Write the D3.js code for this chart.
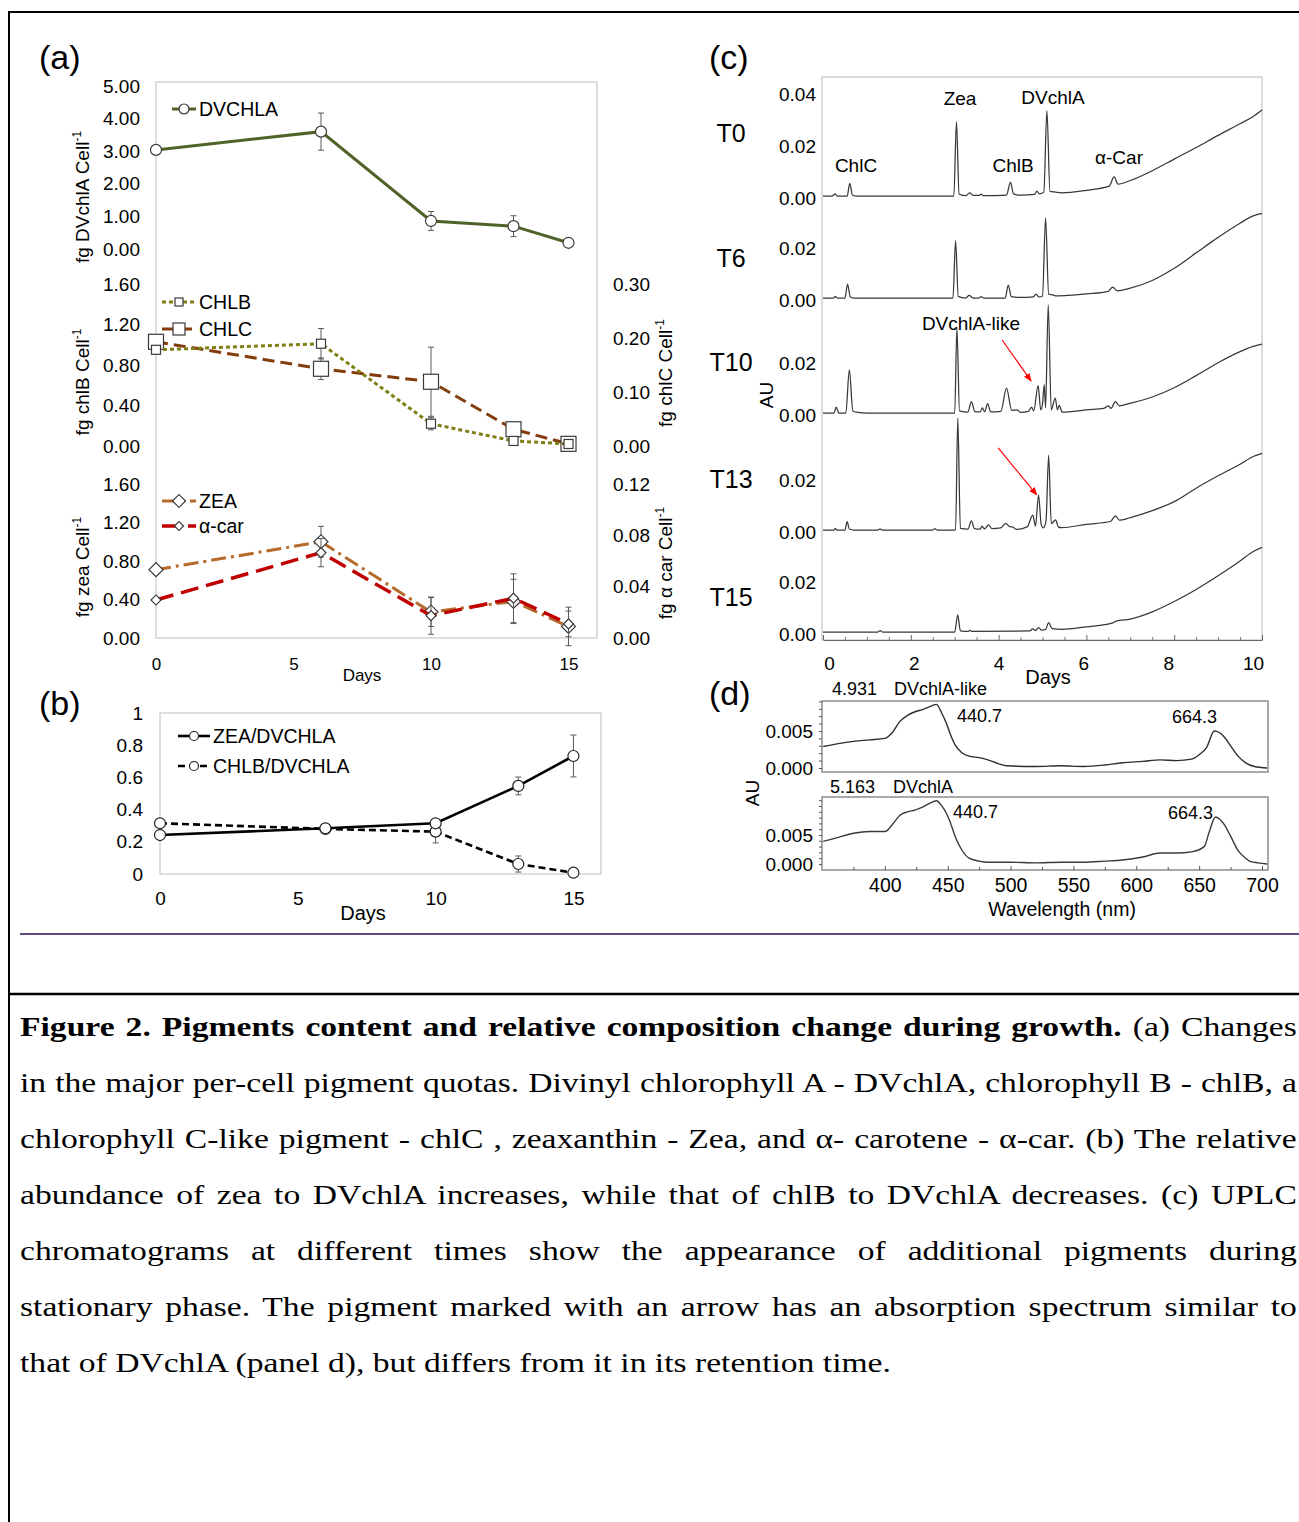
<!DOCTYPE html>
<html>
<head>
<meta charset="utf-8">
<title>Figure 2</title>
<script src="https://cdn.jsdelivr.net/npm/d3@7/dist/d3.min.js"></script>
<style>
	html, body { margin: 0; padding: 0; background: #fff; }
	body { width: 1299px; height: 1522px; overflow: hidden; position: relative; }
	#chart { position: absolute; left: 0; top: 0; }
	/* the serif caption is stretched sideways to reach the width of the original face */
	#caption { position: absolute; left: 20px; top: 999px; width: 1064px;
		transform: scaleX(1.2); transform-origin: 0 0;
		font-family: "Liberation Serif", "Times New Roman", serif; font-size: 28px; color: #000; }
	#caption div { height: 56px; line-height: 56px; text-align: justify; text-align-last: justify; }
	#caption div.last { text-align-last: left; }
</style>
</head>
<body>
<div id="chart"></div>
<div id="caption"></div>
<script>

// panels (a) and (b): sampling days
const days = [0, 6, 10, 13, 15];
const dayTicks = [0, 5, 10, 15];

// per-cell quotas (fg / cell), +- error
const dvchla = [3.04, 3.6, 0.86, 0.7, 0.19];
const dvchlaErr = [0, 0.57, 0.29, 0.32, 0];
const chlb = [0.95, 1.01, 0.22, 0.05, 0.02];
const chlbErr = [0, 0.15, 0.06, 0.01, 0];
const chlc = [0.193, 0.143, 0.119, 0.031, 0.004];
const chlcErr = [0, 0.02, 0.064, 0, 0];
const zea = [0.71, 1.0, 0.27, 0.38, 0.12];
const zeaErr = [0, 0.16, 0.15, 0.23, 0.2];
const acar = [0.0296, 0.0665, 0.0174, 0.031, 0.011];
const acarErr = [0, 0.011, 0.0145, 0.019, 0.01];

// relative composition
const zeaRatio = [0.242, 0.284, 0.315, 0.547, 0.733];
const zeaRatioErr = [0, 0, 0, 0.055, 0.13];
const chlbRatio = [0.315, 0.28, 0.263, 0.062, 0.008];
const chlbRatioErr = [0, 0, 0.07, 0.05, 0];

const dvTicks = [0, 1, 2, 3, 4, 5];
const quotaTicks = [0, 0.4, 0.8, 1.2, 1.6];
const chlcTicks = [0, 0.1, 0.2, 0.3];
const acarTicks = [0, 0.04, 0.08, 0.12];
const ratioTicks = [0, 0.2, 0.4, 0.6, 0.8, 1];

// panel (c): UPLC chromatograms, [retention time, AU above own baseline]
const chromT0 = [[0,0],[0.2,0],[0.28,0.0008],[0.32,0],[0.55,0],[0.61,0.0049],[0.67,0.0004],[0.75,0],[2.98,0],[3.04,0.0288],[3.1,0.0008],[3.25,0.0001],[3.34,0.0012],[3.42,0.0002],[3.56,0.0002],[3.6,0.0007],[3.66,0.0001],[4.18,0.0003],[4.27,0.0054],[4.34,0.0008],[4.5,0.0003],[4.82,0.0006],[4.87,0.0019],[4.93,0.0008],[5.03,0.0015],[5.1,0.0332],[5.17,0.0018],[5.3,0.0015],[5.42,0.0012],[6.0,0.0022],[6.52,0.0038],[6.63,0.0074],[6.72,0.0046],[7.0,0.006],[7.5,0.0098],[8.0,0.0143],[8.5,0.0188],[9.0,0.0235],[9.5,0.028],[9.8,0.0308],[10,0.0333]];
const chromT6 = [[0,0],[0.24,0],[0.28,0.0006],[0.32,0],[0.5,0],[0.56,0.0054],[0.62,0.0005],[0.7,0],[2.96,0],[3.02,0.0222],[3.08,0.0006],[3.25,0],[3.33,0.001],[3.42,0],[3.55,0],[3.6,0.0005],[3.66,0],[4.15,0],[4.22,0.005],[4.29,0.0005],[4.5,0.0002],[4.79,0.0004],[4.85,0.0015],[4.92,0.0004],[5.0,0.0008],[5.07,0.031],[5.14,0.0015],[5.23,0.0012],[5.32,0.0008],[5.6,0.001],[6.0,0.0016],[6.5,0.0026],[6.6,0.0042],[6.7,0.0028],[7.0,0.0038],[7.5,0.0068],[8.0,0.0115],[8.5,0.0175],[9.0,0.0235],[9.5,0.029],[9.8,0.0318],[10,0.0328]];
const chromT10 = [[0,0],[0.25,0],[0.3,0.0023],[0.36,0],[0.52,0],[0.6,0.0167],[0.68,0.0008],[0.8,0.0002],[1.0,0],[3.0,0],[3.05,0.033],[3.11,0.0008],[3.3,0.0003],[3.38,0.0044],[3.46,0.0005],[3.58,0.0004],[3.63,0.002],[3.68,0.0004],[3.75,0.0036],[3.82,0.0004],[4.05,0.0006],[4.18,0.0096],[4.3,0.001],[4.42,0.0012],[4.5,0.0002],[4.68,0.0006],[4.75,0.0023],[4.8,0.0008],[4.9,0.0106],[4.96,0.0012],[5.0,0.0035],[5.04,0.011],[5.07,0.002],[5.13,0.0419],[5.2,0.0012],[5.29,0.0058],[5.34,0.0012],[5.38,0.003],[5.45,0.0003],[5.7,0.0006],[6.0,0.0012],[6.4,0.0018],[6.5,0.0028],[6.56,0.0018],[6.66,0.0044],[6.75,0.0028],[7.0,0.0038],[7.5,0.0062],[8.0,0.0098],[8.5,0.0145],[9.0,0.0195],[9.5,0.0238],[9.8,0.0258],[10,0.0267]];
const chromT13 = [[0,0],[0.25,0],[0.28,0.0006],[0.31,0],[0.5,0],[0.55,0.0032],[0.6,0.0004],[0.7,0],[1.25,0],[1.3,0.0004],[1.35,0],[2.5,0],[2.55,0.0005],[2.6,0],[3.02,0],[3.07,0.0434],[3.13,0.0006],[3.3,0.0003],[3.38,0.0035],[3.45,0.0005],[3.58,0.0003],[3.62,0.0015],[3.68,0.0004],[3.77,0.002],[3.85,0.0005],[4.05,0.0008],[4.16,0.0026],[4.25,0.0013],[4.32,0.0012],[4.4,0.0002],[4.65,0.0012],[4.78,0.0058],[4.84,0.0015],[4.91,0.0136],[4.97,0.0022],[5.02,0.0008],[5.08,0.0035],[5.14,0.029],[5.2,0.0025],[5.3,0.0039],[5.36,0.0012],[5.43,0.0009],[6.0,0.0022],[6.55,0.0033],[6.66,0.0055],[6.75,0.0038],[7.0,0.0048],[7.5,0.0075],[8.0,0.011],[8.5,0.0162],[9.0,0.021],[9.5,0.0255],[9.8,0.0285],[10,0.0297]];
const chromT15 = [[0,0],[1.25,0],[1.3,0.0005],[1.36,0],[3.0,0],[3.07,0.0066],[3.13,0.0004],[3.3,0.0002],[3.35,0.0006],[3.4,0.0002],[4.7,0.0004],[4.78,0.0012],[4.84,0.0006],[4.91,0.0017],[4.98,0.0007],[5.07,0.001],[5.14,0.0036],[5.22,0.0013],[5.45,0.001],[6.0,0.002],[6.6,0.0035],[6.68,0.0042],[7.0,0.005],[7.5,0.0078],[8.0,0.0118],[8.5,0.0165],[9.0,0.0218],[9.5,0.0275],[9.8,0.0312],[10,0.0328]];
const chromNames = ["T0", "T6", "T10", "T13", "T15"];
const chromTicks = [[0, 0.02, 0.04], [0, 0.02], [0, 0.02], [0, 0.02], [0, 0.02]];
const rtTicks = [0, 2, 4, 6, 8, 10];

// panel (d): absorption spectra, [wavelength nm, AU]
const specLike = [[351,0.0029],[363,0.0033],[375,0.0036],[388,0.0038],[400,0.004],[406,0.0048],[412,0.0063],[418,0.0071],[424,0.0076],[430,0.0079],[436,0.0083],[441,0.0086],[445,0.0075],[449,0.006],[452,0.0046],[456,0.0031],[461,0.0021],[467,0.0016],[475,0.0014],[482,0.0011],[490,0.0006],[497,0.0003],[520,0.0002],[540,0.0003],[558,0.0002],[575,0.0004],[589,0.0007],[605,0.0009],[619,0.0011],[632,0.001],[644,0.0012],[650,0.0018],[656,0.0028],[662,0.005],[666,0.0048],[670,0.0042],[675,0.003],[681,0.0016],[687,0.0007],[694,0.0002],[704,0]];
const specDv = [[351,0.0039],[363,0.0046],[375,0.0053],[388,0.0056],[400,0.0056],[406,0.0068],[412,0.0084],[418,0.009],[424,0.0093],[430,0.0098],[436,0.0105],[441,0.0109],[445,0.0101],[449,0.0087],[452,0.0072],[456,0.0047],[461,0.0025],[467,0.001],[475,0.0005],[482,0.0003],[500,0.0003],[520,0.0002],[540,0.0003],[558,0.0003],[575,0.0005],[589,0.0007],[605,0.0012],[619,0.0019],[632,0.0019],[644,0.0021],[654,0.003],[658,0.0055],[663,0.0081],[666,0.0078],[670,0.0068],[675,0.0048],[681,0.0023],[687,0.001],[691,0.0004],[697,0.0002],[704,0]];
const nmTicks = [400, 450, 500, 550, 600, 650, 700];
const specTicks = [0, 0.005];

const captionLines = [
	"in the major per-cell pigment quotas. Divinyl chlorophyll A - DVchlA, chlorophyll B - chlB, a",
	"chlorophyll C-like pigment - chlC , zeaxanthin - Zea, and α- carotene - α-car. (b) The relative",
	"abundance of zea to DVchlA increases, while that of chlB to DVchlA decreases. (c) UPLC",
	"chromatograms at different times show the appearance of additional pigments during",
	"stationary phase. The pigment marked with an arrow has an absorption spectrum similar to",
	"that of DVchlA (panel d), but differs from it in its retention time."
];

const W = 1299, H = 1522;
const FONT = "'Liberation Sans', Arial, sans-serif";
const TICK = 19;
const ERR_COLOR = "#5a5a5a";
const chromBase = [196, 298, 413, 530, 632];
const chromLabelY = [133, 258, 362, 479, 597];
const AU_PX = 2580;

const svg = d3.select("#chart").append("svg")
	.attr("width", W)
	.attr("height", H)
	.attr("font-family", FONT);

svg.append("defs").append("marker")
	.attr("id", "redhead")
	.attr("viewBox", "0 0 10 10")
	.attr("refX", 9).attr("refY", 5)
	.attr("markerWidth", 7).attr("markerHeight", 7)
	.attr("orient", "auto")
	.append("path")
	.attr("d", "M0,1L10,5L0,9Z")
	.attr("fill", "#ff0000");

// ---------- helpers ----------

function styleAxis(ax, size) {
	ax.attr("font-family", FONT).attr("font-size", size);
	ax.selectAll("text").attr("fill", "#000");
	return ax;
}

function labelAxis(g, axis, tx, ty, size) {
	const ax = g.append("g")
		.attr("transform", `translate(${tx},${ty})`)
		.call(axis);
	ax.select(".domain").remove();
	return styleAxis(ax, size);
}

function yTitle(g, x, y, main, sup) {
	const t = g.append("text")
		.attr("transform", `translate(${x},${y}) rotate(-90)`)
		.attr("text-anchor", "middle")
		.attr("dy", "0.35em")
		.attr("font-size", 19);
	t.append("tspan").text(main);
	t.append("tspan").attr("font-size", 12).attr("dy", -8).text(sup);
}

function text(g, x, y, str, size, anchor) {
	return g.append("text")
		.attr("x", x).attr("y", y)
		.attr("dy", "0.35em")
		.attr("text-anchor", anchor || "start")
		.attr("font-size", size)
		.text(str);
}

function marker(g, cx, cy, o) {
	const stroke = o.markerStroke || "#3a3a3a";
	if (o.shape === "circle") {
		return g.append("circle")
			.attr("cx", cx).attr("cy", cy).attr("r", o.size / 2)
			.attr("fill", "#fff").attr("stroke", stroke).attr("stroke-width", 1.2);
	}
	const s = o.shape === "diamond" ? o.size / Math.SQRT2 : o.size;
	return g.append("rect")
		.attr("x", -s / 2).attr("y", -s / 2)
		.attr("width", s).attr("height", s)
		.attr("transform", `translate(${cx},${cy})` + (o.shape === "diamond" ? " rotate(45)" : ""))
		.attr("fill", "#fff").attr("stroke", stroke).attr("stroke-width", 1.2);
}

function drawSeries(g, x, y, values, errors, o) {
	const pts = days.map((d, i) => ({ d: d, v: values[i], e: errors[i] }));

	const eb = g.append("g").attr("stroke", ERR_COLOR).attr("stroke-width", 1);
	pts.filter(p => p.e > 0).forEach(p => {
		const cx = x(p.d), lo = y(p.v - p.e), hi = y(p.v + p.e);
		eb.append("line").attr("x1", cx).attr("x2", cx).attr("y1", lo).attr("y2", hi);
		eb.append("line").attr("x1", cx - 3).attr("x2", cx + 3).attr("y1", lo).attr("y2", lo);
		eb.append("line").attr("x1", cx - 3).attr("x2", cx + 3).attr("y1", hi).attr("y2", hi);
	});

	g.append("path")
		.datum(pts)
		.attr("d", d3.line().x(p => x(p.d)).y(p => y(p.v)))
		.attr("fill", "none")
		.attr("stroke", o.color)
		.attr("stroke-width", o.width)
		.attr("stroke-dasharray", o.dash);

	pts.forEach(p => marker(g, x(p.d), y(p.v), o));
}

function legendItem(g, x0, x1, y, label, o) {
	g.append("line")
		.attr("x1", x0).attr("x2", x1).attr("y1", y).attr("y2", y)
		.attr("stroke", o.color)
		.attr("stroke-width", o.width)
		.attr("stroke-dasharray", o.dash);
	marker(g, (x0 + x1) / 2, y, Object.assign({}, o, { size: o.legendSize || o.size }));
	text(g, x1 + 3, y, label, 19.5);
}

// series styles
const sDv = { color: "#4f6228", width: 3, dash: null, shape: "circle", size: 11, legendSize: 10 };
const sChlb = { color: "#7f7f14", width: 3, dash: "4,3", shape: "square", size: 9, legendSize: 8 };
const sChlc = { color: "#843c0c", width: 3, dash: "12,6", shape: "square", size: 15, legendSize: 12 };
const sZea = { color: "#b5692a", width: 3, dash: "15,5,3,5", shape: "diamond", size: 14, legendSize: 13 };
const sAcar = { color: "#c00000", width: 3.5, dash: "18,8", shape: "diamond", size: 10, legendSize: 9 };
const sZr = { color: "#000", width: 2.6, dash: null, shape: "circle", size: 11, markerStroke: "#222", legendSize: 9 };
const sCr = { color: "#000", width: 2.6, dash: "7,4", shape: "circle", size: 11, markerStroke: "#222", legendSize: 9 };

// ---------- frame ----------

svg.append("line").attr("x1", 8).attr("x2", W).attr("y1", 12).attr("y2", 12)
	.attr("stroke", "#000").attr("stroke-width", 2);
svg.append("line").attr("x1", 9).attr("x2", 9).attr("y1", 11).attr("y2", H)
	.attr("stroke", "#000").attr("stroke-width", 2);
svg.append("line").attr("x1", 20).attr("x2", W).attr("y1", 934).attr("y2", 934)
	.attr("stroke", "#604a7b").attr("stroke-width", 2);
svg.append("line").attr("x1", 8).attr("x2", W).attr("y1", 994).attr("y2", 994)
	.attr("stroke", "#000").attr("stroke-width", 2.5);

// ---------- panel (a) ----------

const gA = svg.append("g");
const xA = d3.scaleLinear().domain([0, 16]).range([156, 596]);
const yDv = d3.scaleLinear().domain([0, 5]).range([249, 86]);
const yChlb = d3.scaleLinear().domain([0, 1.6]).range([446, 284]);
const yChlc = d3.scaleLinear().domain([0, 0.3]).range([446, 284]);
const yZea = d3.scaleLinear().domain([0, 1.6]).range([638, 484]);
const yAcar = d3.scaleLinear().domain([0, 0.12]).range([638, 484]);

gA.append("rect")
	.attr("x", 156).attr("y", 82)
	.attr("width", 441).attr("height", 556)
	.attr("fill", "none").attr("stroke", "#c8c8c8").attr("stroke-width", 1.2);

text(gA, 39, 57, "(a)", 34);

const f2 = d3.format(".2f");
labelAxis(gA, d3.axisLeft(yDv).tickValues(dvTicks).tickFormat(f2).tickSize(0).tickPadding(16), 156, 0, TICK);
labelAxis(gA, d3.axisLeft(yChlb).tickValues(quotaTicks).tickFormat(f2).tickSize(0).tickPadding(16), 156, 0, TICK);
labelAxis(gA, d3.axisLeft(yZea).tickValues(quotaTicks).tickFormat(f2).tickSize(0).tickPadding(16), 156, 0, TICK);
labelAxis(gA, d3.axisRight(yChlc).tickValues(chlcTicks).tickFormat(f2).tickSize(0).tickPadding(16), 597, 0, TICK);
labelAxis(gA, d3.axisRight(yAcar).tickValues(acarTicks).tickFormat(f2).tickSize(0).tickPadding(16), 597, 0, TICK);
labelAxis(gA, d3.axisBottom(xA).tickValues(dayTicks).tickFormat(d3.format("d")).tickSize(0).tickPadding(20), 0, 638, 17);
text(gA, 362, 675, "Days", 17, "middle");

yTitle(gA, 82, 197, "fg DVchlA  Cell", "-1");
yTitle(gA, 82, 382, "fg chlB Cell", "-1");
yTitle(gA, 82, 567, "fg zea Cell", "-1");
yTitle(gA, 665, 373, "fg chlC  Cell", "-1");
yTitle(gA, 665, 563, "fg \u03b1 car Cell", "-1");

drawSeries(gA, xA, yDv, dvchla, dvchlaErr, sDv);
drawSeries(gA, xA, yChlc, chlc, chlcErr, sChlc);
drawSeries(gA, xA, yChlb, chlb, chlbErr, sChlb);
drawSeries(gA, xA, yZea, zea, zeaErr, sZea);
drawSeries(gA, xA, yAcar, acar, acarErr, sAcar);

legendItem(gA, 172, 196, 109, "DVCHLA", sDv);
legendItem(gA, 162, 196, 302, "CHLB", sChlb);
legendItem(gA, 162, 196, 329, "CHLC", sChlc);
legendItem(gA, 162, 196, 501, "ZEA", sZea);
legendItem(gA, 162, 196, 526, "\u03b1-car", sAcar);

// ---------- panel (b) ----------

const gB = svg.append("g");
const xB = d3.scaleLinear().domain([0, 16]).range([160, 601]);
const yB = d3.scaleLinear().domain([0, 1]).range([874, 713]);

gB.append("rect")
	.attr("x", 160).attr("y", 713)
	.attr("width", 441).attr("height", 161)
	.attr("fill", "none").attr("stroke", "#c8c8c8").attr("stroke-width", 1.2);

text(gB, 39, 703, "(b)", 34);
labelAxis(gB, d3.axisLeft(yB).tickValues(ratioTicks).tickFormat(d3.format("~g")).tickSize(0).tickPadding(17), 160, 0, TICK);
labelAxis(gB, d3.axisBottom(xB).tickValues(dayTicks).tickFormat(d3.format("d")).tickSize(0).tickPadding(18), 0, 874, TICK);
text(gB, 363, 913, "Days", 20, "middle");

drawSeries(gB, xB, yB, chlbRatio, chlbRatioErr, sCr);
drawSeries(gB, xB, yB, zeaRatio, zeaRatioErr, sZr);

legendItem(gB, 178, 210, 736, "ZEA/DVCHLA", sZr);
legendItem(gB, 178, 210, 766, "CHLB/DVCHLA", sCr);

// ---------- panel (c) ----------

const gC = svg.append("g");
const xC = d3.scaleLinear().domain([0, 10]).range([823, 1262]);
// the original's tick labels sit slightly inside the tick marks
const xCLabel = d3.scaleLinear().domain([0, 10]).range([829, 1253]);

gC.append("rect")
	.attr("x", 822).attr("y", 77)
	.attr("width", 440).attr("height", 563)
	.attr("fill", "none").attr("stroke", "#c4c4c4").attr("stroke-width", 1.2);

text(gC, 709, 57, "(c)", 34);

const chroms = [chromT0, chromT6, chromT10, chromT13, chromT15];
chroms.forEach((trace, i) => {
	const base = chromBase[i];
	const y = d3.scaleLinear().domain([0, 0.04]).range([base, base - 0.04 * AU_PX]);

	labelAxis(gC, d3.axisLeft(y).tickValues(chromTicks[i]).tickFormat(f2).tickSize(0).tickPadding(6), 822, 2, TICK);
	text(gC, 731, chromLabelY[i], chromNames[i], 25, "middle");

	gC.append("path")
		.datum(trace)
		.attr("d", d3.line().x(d => xC(d[0])).y(d => y(d[1])).curve(d3.curveMonotoneX))
		.attr("fill", "none")
		.attr("stroke", "#383838")
		.attr("stroke-width", 1.25);
});

// retention time axis: ticks on the real scale, labels where the original put them
const axC = gC.append("g")
	.attr("transform", "translate(0,640)")
	.call(d3.axisBottom(xC).tickValues(rtTicks).tickFormat("").tickSize(-5).tickSizeOuter(0));
axC.selectAll("line, path").attr("stroke", "#666");
gC.append("g")
	.attr("transform", "translate(0,640)")
	.call(d3.axisBottom(xC).tickValues(d3.range(1, 10, 2).concat(d3.range(0.5, 10, 1))).tickFormat("").tickSize(-3))
	.call(a => a.select(".domain").remove())
	.selectAll("line").attr("stroke", "#777");
labelAxis(gC, d3.axisBottom(xCLabel).tickValues(rtTicks).tickFormat(d3.format("d")).tickSize(0).tickPadding(17), 0, 640, TICK);
text(gC, 1048, 677, "Days", 20, "middle");

gC.append("text")
	.attr("transform", "translate(766,395) rotate(-90)")
	.attr("text-anchor", "middle").attr("dy", "0.35em")
	.attr("font-size", 19).text("AU");

text(gC, 960, 98, "Zea", 19, "middle");
text(gC, 1053, 97, "DVchlA", 19, "middle");
text(gC, 856, 165, "ChlC", 19, "middle");
text(gC, 1013, 165, "ChlB", 19, "middle");
text(gC, 1119, 157, "\u03b1-Car", 19, "middle");
text(gC, 971, 323, "DVchlA-like", 19, "middle");

// arrows to the DVchlA-like peak (T10 and T13)
const yT10 = d3.scaleLinear().domain([0, 0.04]).range([chromBase[2], chromBase[2] - 0.04 * AU_PX]);
const yT13 = d3.scaleLinear().domain([0, 0.04]).range([chromBase[3], chromBase[3] - 0.04 * AU_PX]);
[[yT10, 4.08, 0.0283, 4.74, 0.0124], [yT13, 3.99, 0.0318, 4.87, 0.0136]].forEach(a => {
	gC.append("line")
		.attr("x1", xC(a[1])).attr("y1", a[0](a[2]))
		.attr("x2", xC(a[3])).attr("y2", a[0](a[4]))
		.attr("stroke", "#ff0000").attr("stroke-width", 1.2)
		.attr("marker-end", "url(#redhead)");
});

// ---------- panel (d) ----------

const gD = svg.append("g");
const xD = d3.scaleLinear().domain([350, 700]).range([822, 1262]);
const yUp = d3.scaleLinear().domain([0, 0.005]).range([768, 731]);
const yLo = d3.scaleLinear().domain([0, 0.005]).range([864, 835]);

text(gD, 709, 693, "(d)", 34);

[[701, 71], [797, 73]].forEach(b => {
	gD.append("rect")
		.attr("x", 822).attr("y", b[0])
		.attr("width", 446).attr("height", b[1])
		.attr("fill", "none").attr("stroke", "#8c8c8c").attr("stroke-width", 1.5);
});

[[yUp, 0.0092], [yLo, 0.0112]].forEach(s => {
	labelAxis(gD, d3.axisLeft(s[0]).tickValues(specTicks).tickFormat(d3.format(".3f")).tickSize(0).tickPadding(9), 822, 0, TICK);
	gD.append("g")
		.attr("transform", "translate(822,0)")
		.call(d3.axisLeft(s[0]).tickValues(d3.range(0, s[1], 0.001)).tickFormat("").tickSize(3))
		.call(a => a.select(".domain").remove())
		.selectAll("line").attr("stroke", "#555");
});

const axD = gD.append("g")
	.attr("transform", "translate(0,870)")
	.call(d3.axisBottom(xD).tickValues(nmTicks).tickFormat(d3.format("d")).tickSize(-4).tickPadding(8));
styleAxis(axD, 19.5);
axD.select(".domain").remove();
axD.selectAll("line").attr("stroke", "#555");
gD.append("g")
	.attr("transform", "translate(0,870)")
	.call(d3.axisBottom(xD).tickValues(d3.range(375, 700, 50)).tickFormat("").tickSize(-3))
	.call(a => a.select(".domain").remove())
	.selectAll("line").attr("stroke", "#555");

gD.append("path")
	.datum(specLike)
	.attr("d", d3.line().x(d => xD(d[0])).y(d => yUp(d[1])).curve(d3.curveMonotoneX))
	.attr("fill", "none").attr("stroke", "#2e2e2e").attr("stroke-width", 1.4);
gD.append("path")
	.datum(specDv)
	.attr("d", d3.line().x(d => xD(d[0])).y(d => yLo(d[1])).curve(d3.curveMonotoneX))
	.attr("fill", "none").attr("stroke", "#3a3a3a").attr("stroke-width", 1.4);

gD.append("text")
	.attr("transform", "translate(752,793) rotate(-90)")
	.attr("text-anchor", "middle").attr("dy", "0.35em")
	.attr("font-size", 19).text("AU");

text(gD, 832, 689, "4.931", 18);
text(gD, 894, 689, "DVchlA-like", 18);
text(gD, 957, 716, "440.7", 18);
text(gD, 1172, 717, "664.3", 18);
text(gD, 830, 787, "5.163", 18);
text(gD, 893, 787, "DVchlA", 18);
text(gD, 953, 812, "440.7", 18);
text(gD, 1168, 813, "664.3", 18);
text(gD, 1062, 909, "Wavelength (nm)", 19.5, "middle");

// ---------- caption ----------

const cap = d3.select("#caption");
const first = cap.append("div");
first.append("b").text("Figure 2. Pigments content and relative composition change during growth.");
first.append("span").text(" (a) Changes");
captionLines.forEach((line, i) => {
	cap.append("div")
		.attr("class", i === captionLines.length - 1 ? "last" : null)
		.text(line);
});

</script>
</body>
</html>
